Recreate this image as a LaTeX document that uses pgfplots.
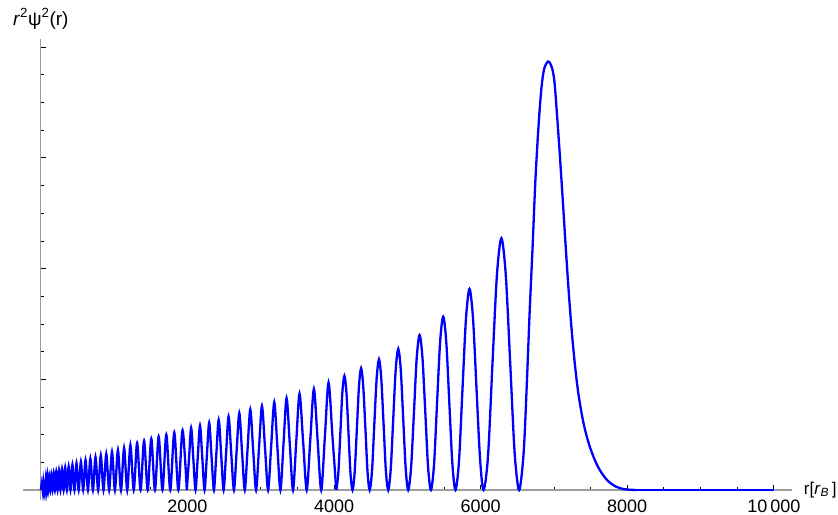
\documentclass[border=0pt]{standalone}
\usepackage{fontspec}
\setmainfont{Liberation Sans}
\usepackage{pgfplots}
\pgfplotsset{compat=1.18}
\begin{document}
\begin{tikzpicture}
\useasboundingbox (-23.3bp,-15bp) rectangle (814.7bp,500bp);
\begin{axis}[
  at={(0,0)}, anchor=south west,
  scale only axis, width=768.4bp, height=460.7bp,
  xmin=-240, xmax=10244, ymin=-0.0903, ymax=4.071,
  axis lines*=middle,
  axis line style={draw=black!38, line width=1.1bp},
  tick align=inside,
  major tick length=5bp, minor tick length=3bp,
  tick style={draw=black, line width=0.8bp},
  xtick={0,2000,4000,6000,8000,10000},
  xticklabels={,2000,4000,6000,8000,10\,000},
  minor x tick num=3,
  ytick={0,1,2,3,4}, yticklabels={}, minor y tick num=3,
  xticklabel style={font=\fontsize{18bp}{21bp}\selectfont, inner sep=0pt, anchor=north, yshift=-10bp},
  xlabel={r[\textit{r}\textsubscript{\textit{B}}\,]},
  every axis x label/.style={at={(axis cs:10244,0)}, anchor=west, inner sep=0pt, xshift=12bp, font=\fontsize{17bp}{20bp}\selectfont},
  ylabel={\textit{r}\textsuperscript{2}ψ\textsuperscript{2}(r)},
  every axis y label/.style={at={(axis cs:0,4.071)}, anchor=base, inner sep=0pt, yshift=14bp, font=\fontsize{19bp}{22bp}\selectfont},
  clip=false,
]
\addplot[blue, line width=2.3bp, smooth] coordinates {
(0,0)(4,0.025)(7,0)(10,0.043)(14,0)(19,0.058)(25,0)(32,0.073)(40,0)(48,0.087)(57,0)(67,0.100)(78,0)(89,0.113)(101,0)(114,0.126)(128,0)(142,0.139)(158,0)(174,0.152)(191,0)(209,0.165)(228,0)(247,0.178)(267,0)(288,0.190)(310,0)(332,0.203)(355,0)(379,0.214)(404,0)(430,0.228)(458,0)(486,0.242)(516,0)(546,0.256)(577,0)(609,0.270)(642,0)(675,0.284)(710,0)(745,0.298)(781,0)(817,0.312)(854,0)(892,0.327)(931,0)(970,0.343)(1010,0)(1051,0.360)(1093,0)(1135,0.380)(1178,0)(1221,0.405)(1267,0)(1313,0.425)(1360,0)(1408,0.445)(1457,0)(1506,0.464)(1556,0)(1607,0.483)(1659,0)(1711,0.501)(1765,0)(1820,0.520)(1876,0)(1933,0.540)(1991,0)
};
\addplot[blue, line width=2.3bp, smooth] coordinates {
(1991,0)(2021,0.281)(2050,0.561)(2080,0.281)(2110,0)(2140,0.292)(2171,0.583)(2202,0.292)(2233,0)(2264,0.304)(2296,0.607)(2328,0.304)(2361,0)(2393,0.317)(2426,0.634)(2460,0.317)(2493,0)(2527,0.332)(2561,0.664)(2597,0.332)(2634,0)(2670,0.348)(2707,0.695)(2744,0.348)(2782,0)(2819,0.364)(2857,0.727)(2896,0.364)(2936,0)(2976,0.380)(3016,0.759)(3058,0.380)(3100,0)(3142,0.397)(3184,0.793)(3226,0.397)(3268,0)(3310,0.415)(3352,0.829)(3396,0.415)(3440,0)(3484,0.435)(3529,0.869)(3578,0.435)(3627,0)(3676,0.457)(3725,0.913)(3775,0.457)(3825,0)(3875,0.485)(3925,0.970)(3978,0.485)(4030,0)
};
\addplot[blue, line width=2.3bp, smooth] coordinates {
(4030,0)(4058,0.151)(4086,0.515)(4113,0.879)(4141,1.030)(4169,0.879)(4197,0.515)(4224,0.151)
(4252,0)(4281,0.161)(4311,0.550)(4340,0.938)(4369,1.099)(4398,0.938)(4428,0.550)(4457,0.161)
(4486,0)(4518,0.173)(4549,0.590)(4581,1.007)(4613,1.180)(4644,1.007)(4676,0.590)(4707,0.173)
(4739,0)(4773,0.187)(4807,0.637)(4841,1.087)(4876,1.274)(4910,1.087)(4944,0.637)(4978,0.187)
(5012,0)(5051,0.205)(5090,0.700)(5128,1.195)(5167,1.400)(5206,1.195)(5245,0.700)(5283,0.205)
(5322,0)(5364,0.229)(5405,0.783)(5447,1.337)(5489,1.566)(5531,1.337)(5573,0.783)(5614,0.240)
(5656,0)(5704,0.255)(5752,0.908)(5800,1.550)(5848,1.816)(5896,1.550)(5944,0.908)(5992,0.280)
(6040,0)(6101,0.310)(6161,1.137)(6222,1.941)(6283,2.274)(6343,1.941)(6404,1.137)(6464,0.333)
(6525,0)(6586,0.330)(6630,0.960)(6668,1.600)(6707,2.170)(6745,2.770)(6785,3.240)(6825,3.600)(6865,3.800)(6920,3.870)(6965,3.830)(7005,3.700)(7045,3.360)(7085,2.980)(7125,2.570)(7165,2.150)(7205,1.760)(7245,1.420)(7285,1.140)(7325,0.910)(7365,0.740)(7405,0.600)(7445,0.490)(7485,0.400)(7525,0.325)(7565,0.260)(7605,0.205)(7645,0.160)(7685,0.122)(7725,0.090)(7765,0.065)(7805,0.046)(7845,0.031)(7885,0.020)(7925,0.012)(7965,0.007)(8005,0.004)(8045,0.002)(8085,0.001)(8125,0)
};
\addplot[blue, line width=2.3bp] coordinates {(8125,0)(10000,0)};
\end{axis}
\end{tikzpicture}
\end{document}
